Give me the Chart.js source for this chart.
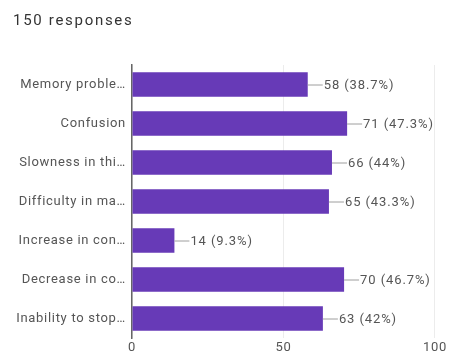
<!DOCTYPE html>
<html lang="en">
<head>
<meta charset="UTF-8">
<title>150 responses</title>
<script src="https://cdn.jsdelivr.net/npm/chart.js"></script>
<style>
  html, body { margin: 0; padding: 0; background: #fff; }
  #wrap { position: relative; width: 449px; height: 359px; }
  #head {
    position: absolute; left: 13px; top: 11px;
    font: 15px Roboto, Arial, sans-serif; letter-spacing: 1.7px; color: #333;
  }
  canvas { position: absolute; left: 0; top: 0; }
</style>
</head>
<body>
<div id="wrap">
  <canvas id="chart" width="449" height="359"></canvas>
  <div id="head">150 responses</div>
</div>
<script>
// data
const categories = [
    'Memory proble\u2026',
    'Confusion',
    'Slowness in thi\u2026',
    'Difficulty in ma\u2026',
    'Increase in con\u2026',
    'Decrease in co\u2026',
    'Inability to stop\u2026'
];
const counts = [58, 71, 66, 65, 14, 70, 63];
const percents = ['38.7%', '47.3%', '44%', '43.3%', '9.3%', '46.7%', '42%'];
const xTicks = [0, 50, 100];

const FONT = 'Roboto, Arial, sans-serif';

// the text in the picture is drawn rather wide
const spacing = {
    id: 'spacing',
    beforeLayout(chart) { chart.ctx.letterSpacing = '0.7px'; },
    beforeDraw(chart) { chart.ctx.letterSpacing = '0.7px'; }
};

// leader line + "n (p%)" next to each bar
const barLabels = {
    id: 'barLabels',
    afterDatasetsDraw(chart) {
        const ctx = chart.ctx;
        const meta = chart.getDatasetMeta(0);
        ctx.save();
        ctx.font = '13px ' + FONT;
        ctx.letterSpacing = '0.9px';
        ctx.textBaseline = 'middle';
        meta.data.forEach((bar, i) => {
            ctx.strokeStyle = '#9e9e9e';
            ctx.lineWidth = 1;
            ctx.beginPath();
            ctx.moveTo(bar.x, bar.y + 0.5);
            ctx.lineTo(bar.x + 15, bar.y + 0.5);
            ctx.stroke();
            ctx.fillStyle = '#555';
            ctx.fillText(counts[i] + ' (' + percents[i] + ')', bar.x + 16, bar.y + 1);
        });
        ctx.restore();
    }
};

new Chart(document.getElementById('chart'), {
    type: 'bar',
    data: {
        labels: categories,
        datasets: [{
            data: counts,
            backgroundColor: '#673ab7',
            borderWidth: 0,
            barPercentage: 0.8,
            categoryPercentage: 0.78
        }]
    },
    options: {
        indexAxis: 'y',
        responsive: false,
        animation: false,
        layout: { padding: { top: 65, right: 12 } },
        plugins: {
            legend: { display: false },
            tooltip: { enabled: false }
        },
        scales: {
            x: {
                min: 0,
                max: 100,
                afterFit(scale) { scale.height = 21; },
                afterBuildTicks(scale) { scale.ticks = xTicks.map(v => ({ value: v })); },
                grid: { color: '#ececec', drawTicks: false },
                border: { display: false },
                ticks: {
                    color: '#555',
                    padding: 2,
                    font: { family: FONT, size: 13 }
                }
            },
            y: {
                afterFit(scale) { scale.width = 132; },
                grid: { display: false, drawTicks: false },
                border: { display: true, color: '#666', width: 1.5 },
                ticks: {
                    color: '#555',
                    padding: 6,
                    font: { family: FONT, size: 13 }
                }
            }
        }
    },
    plugins: [spacing, barLabels]
});
</script>
</body>
</html>
